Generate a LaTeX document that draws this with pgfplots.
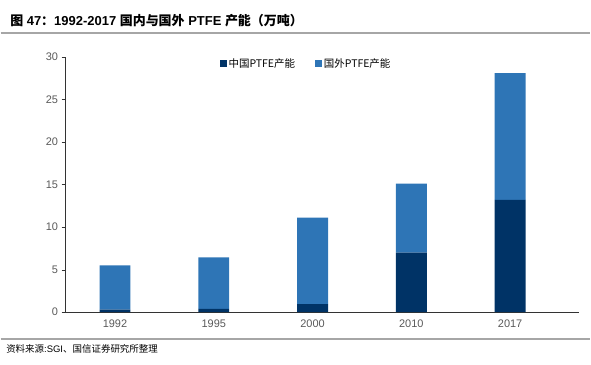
\documentclass[border=0pt]{standalone}
\usepackage{pgfplots}
\pgfplotsset{compat=1.18}
\usepackage{fontspec}
\setmainfont{Liberation Sans}
\newfontfamily\cjk{Noto Sans CJK SC}
\definecolor{cnblue}{RGB}{0,51,102}
\definecolor{fgblue}{RGB}{46,117,182}
\definecolor{tickgray}{RGB}{89,89,89}
\begin{document}
\begin{tikzpicture}[x=1pt,y=1pt]
\path (0,0) rectangle (591,365);
\node[anchor=west,font=\bfseries\fontsize{13}{15}\selectfont] at (6,344) {{\cjk 图} 47{\cjk ：}1992-2017 {\cjk 国内与国外} PTFE {\cjk 产能（万吨）}};
\draw[gray!70,line width=1.5pt] (0,332) -- (591,332);
\draw[gray!70,line width=1.5pt] (0,25) -- (591,25);
\node[anchor=west,font=\fontsize{9.5}{11}\selectfont] at (2,15) {{\cjk 资料来源}:SGI{\cjk 、国信证券研究所整理}};
\begin{axis}[
  at={(65pt,52pt)}, anchor=south west,
  scale only axis, width=515pt, height=256pt,
  ybar stacked, bar width=31pt,
  xmin=-0.5, xmax=4.7, ymin=0, ymax=30,
  axis x line*=bottom, axis y line*=left,
  axis line style={-, black!80},
  xtick={0,...,4}, xticklabels={1992,1995,2000,2010,2017},
  extra x ticks={-0.5,0.5,1.5,2.5,3.5},
  extra x tick labels={},
  extra x tick style={major tick length=4pt, tick style={black!80}, tick align=outside},
  x tick style={draw=none},
  ytick={0,5,...,30},
  y tick style={black!80}, tick align=outside, major tick length=4pt,
  ticklabel style={font=\fontsize{11}{13}\selectfont, text=tickgray},
  /pgf/number format/assume math mode=true,
  legend columns=2,
  legend style={draw=none, at={(0.468,1.01)}, anchor=north, font=\cjk\fontsize{10.5}{12}\selectfont,
    /tikz/every even column/.append style={column sep=18pt}},
  legend image code/.code={\fill[#1] (0pt,-3.5pt) rectangle (7pt,3.5pt);},
]
\addplot[fill=cnblue, draw=none] coordinates {(0,0.3) (1,0.4) (2,0.95) (3,7.0) (4,13.2)};
\addplot[fill=fgblue, draw=none] coordinates {(0,5.2) (1,6.05) (2,10.15) (3,8.1) (4,14.9)};
\legend{中国PTFE产能, 国外PTFE产能}
\end{axis}
\end{tikzpicture}
\end{document}
